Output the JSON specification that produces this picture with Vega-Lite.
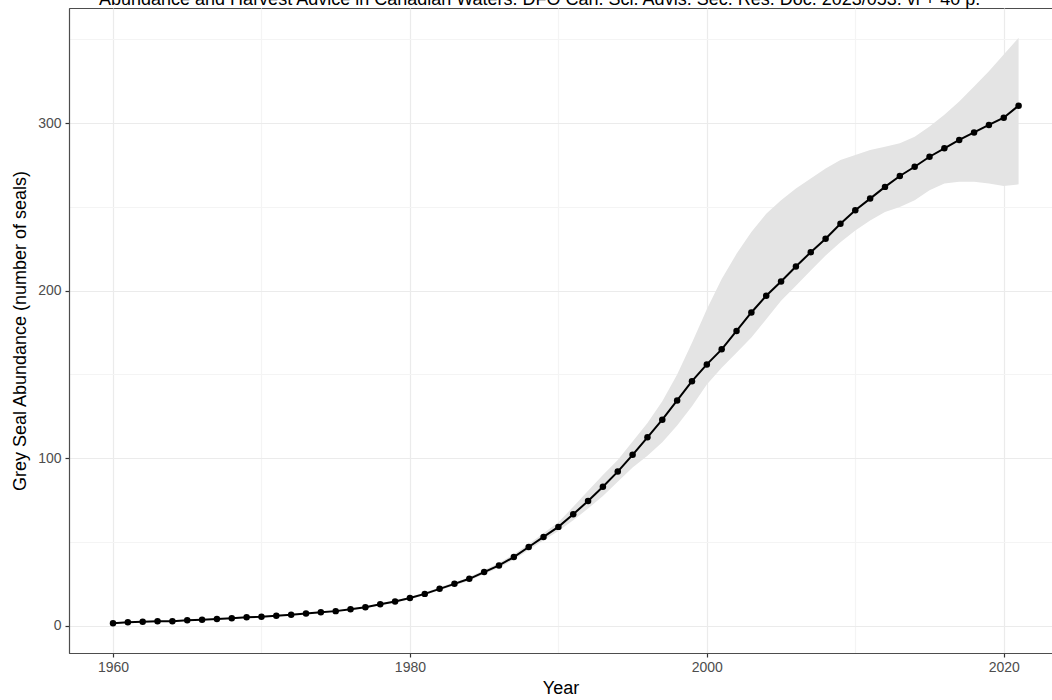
{
  "$schema": "https://vega.github.io/schema/vega-lite/v6.json",
  "autosize": {"type": "none"},
  "width": 983,
  "height": 645,
  "padding": {"left": 69, "top": 8, "right": 0, "bottom": 47},
  "background": "white",
  "title": {
    "text": "Abundance and Harvest Advice in Canadian Waters. DFO Can. Sci. Advis. Sec. Res. Doc. 2023/053. vi + 40 p.",
    "anchor": "start",
    "frame": "group",
    "dx": 30,
    "offset": 0,
    "dy": 15,
    "baseline": "alphabetic",
    "font": "Liberation Sans",
    "fontSize": 18,
    "fontWeight": "normal",
    "color": "#000000"
  },
  "config": {
    "view": {"stroke": "#4d4d4d", "strokeWidth": 1},
    "axis": {
      "labelFont": "Liberation Sans",
      "titleFont": "Liberation Sans",
      "labelFontSize": 14,
      "labelColor": "#4d4d4d",
      "titleFontSize": 18,
      "titleFontWeight": "normal",
      "titleColor": "#000000",
      "domainColor": "#4d4d4d",
      "domainWidth": 1.2,
      "tickWidth": 1.2,
      "tickSize": 4,
      "gridWidth": 1.2
    }
  },
  "data": {
    "values": [
      {"year": 1960, "abundance": 1.5, "lower": 1.2, "upper": 1.8},
      {"year": 1961, "abundance": 2.0, "lower": 1.7, "upper": 2.3},
      {"year": 1962, "abundance": 2.3, "lower": 2.0, "upper": 2.6},
      {"year": 1963, "abundance": 2.7, "lower": 2.4, "upper": 3.0},
      {"year": 1964, "abundance": 2.7, "lower": 2.4, "upper": 3.0},
      {"year": 1965, "abundance": 3.2, "lower": 2.9, "upper": 3.5},
      {"year": 1966, "abundance": 3.6, "lower": 3.3, "upper": 3.9},
      {"year": 1967, "abundance": 4.0, "lower": 3.7, "upper": 4.3},
      {"year": 1968, "abundance": 4.5, "lower": 4.2, "upper": 4.8},
      {"year": 1969, "abundance": 5.0, "lower": 4.7, "upper": 5.3},
      {"year": 1970, "abundance": 5.4, "lower": 5.1, "upper": 5.8},
      {"year": 1971, "abundance": 6.0, "lower": 5.6, "upper": 6.4},
      {"year": 1972, "abundance": 6.6, "lower": 6.2, "upper": 7.0},
      {"year": 1973, "abundance": 7.3, "lower": 6.9, "upper": 7.7},
      {"year": 1974, "abundance": 8.0, "lower": 7.6, "upper": 8.4},
      {"year": 1975, "abundance": 8.7, "lower": 8.3, "upper": 9.2},
      {"year": 1976, "abundance": 9.8, "lower": 9.3, "upper": 10.3},
      {"year": 1977, "abundance": 11.0, "lower": 10.5, "upper": 11.5},
      {"year": 1978, "abundance": 12.8, "lower": 12.2, "upper": 13.4},
      {"year": 1979, "abundance": 14.5, "lower": 13.9, "upper": 15.1},
      {"year": 1980, "abundance": 16.5, "lower": 15.8, "upper": 17.2},
      {"year": 1981, "abundance": 19.0, "lower": 18.2, "upper": 19.8},
      {"year": 1982, "abundance": 22.0, "lower": 21.1, "upper": 22.9},
      {"year": 1983, "abundance": 25.0, "lower": 24.0, "upper": 26.0},
      {"year": 1984, "abundance": 28.0, "lower": 26.9, "upper": 29.1},
      {"year": 1985, "abundance": 32.0, "lower": 30.8, "upper": 33.2},
      {"year": 1986, "abundance": 36.0, "lower": 34.6, "upper": 37.4},
      {"year": 1987, "abundance": 41.0, "lower": 39.4, "upper": 42.6},
      {"year": 1988, "abundance": 47.0, "lower": 45.2, "upper": 48.8},
      {"year": 1989, "abundance": 53.0, "lower": 51.0, "upper": 55.2},
      {"year": 1990, "abundance": 59.0, "lower": 56.5, "upper": 61.8},
      {"year": 1991, "abundance": 66.5, "lower": 63.0, "upper": 71.0},
      {"year": 1992, "abundance": 74.5, "lower": 70.0, "upper": 80.5},
      {"year": 1993, "abundance": 83.0, "lower": 77.5, "upper": 90.0},
      {"year": 1994, "abundance": 92.0, "lower": 86.0, "upper": 99.0},
      {"year": 1995, "abundance": 102.0, "lower": 94.5, "upper": 110.0},
      {"year": 1996, "abundance": 112.5, "lower": 101.5, "upper": 121.0},
      {"year": 1997, "abundance": 123.0, "lower": 109.5, "upper": 134.0},
      {"year": 1998, "abundance": 134.5, "lower": 119.5, "upper": 150.0},
      {"year": 1999, "abundance": 146.0, "lower": 131.0, "upper": 169.0},
      {"year": 2000, "abundance": 156.0, "lower": 144.0, "upper": 189.0},
      {"year": 2001, "abundance": 165.0, "lower": 154.0, "upper": 207.0},
      {"year": 2002, "abundance": 176.0, "lower": 163.0, "upper": 222.0},
      {"year": 2003, "abundance": 187.0, "lower": 172.0, "upper": 235.0},
      {"year": 2004, "abundance": 197.0, "lower": 183.0, "upper": 246.0},
      {"year": 2005, "abundance": 205.5, "lower": 194.0, "upper": 254.0},
      {"year": 2006, "abundance": 214.5, "lower": 203.0, "upper": 261.0},
      {"year": 2007, "abundance": 223.0, "lower": 212.0, "upper": 267.0},
      {"year": 2008, "abundance": 231.0, "lower": 221.0, "upper": 273.0},
      {"year": 2009, "abundance": 240.0, "lower": 229.0, "upper": 278.0},
      {"year": 2010, "abundance": 248.0, "lower": 236.0, "upper": 281.0},
      {"year": 2011, "abundance": 255.0, "lower": 242.0, "upper": 284.0},
      {"year": 2012, "abundance": 262.0, "lower": 247.0, "upper": 286.0},
      {"year": 2013, "abundance": 268.5, "lower": 250.0, "upper": 288.0},
      {"year": 2014, "abundance": 274.0, "lower": 254.0, "upper": 292.0},
      {"year": 2015, "abundance": 280.0, "lower": 260.0, "upper": 298.0},
      {"year": 2016, "abundance": 285.0, "lower": 264.0, "upper": 305.0},
      {"year": 2017, "abundance": 290.0, "lower": 265.0, "upper": 313.0},
      {"year": 2018, "abundance": 294.5, "lower": 265.0, "upper": 322.0},
      {"year": 2019, "abundance": 299.0, "lower": 264.0, "upper": 331.0},
      {"year": 2020, "abundance": 303.3, "lower": 262.5, "upper": 341.0},
      {"year": 2021, "abundance": 310.5, "lower": 263.5, "upper": 351.0}
    ]
  },
  "encoding": {
    "x": {
      "field": "year",
      "type": "quantitative",
      "title": "Year",
      "scale": {"domain": [1957.036, 2023.25], "nice": false, "zero": false},
      "axis": {
        "values": [1960, 1970, 1980, 1990, 2000, 2010, 2020],
        "format": "d",
        "labelExpr": "datum.value % 20 === 0 ? datum.label : ''",
        "tickColor": {"condition": {"test": "datum.value % 20 === 0", "value": "#333333"}, "value": "transparent"},
        "gridColor": {"condition": {"test": "datum.value % 20 === 0", "value": "#ebebeb"}, "value": "#f4f4f4"},
        "labelPadding": 3,
        "titlePadding": 5,
        "labelFlush": false
      }
    }
  },
  "layer": [
    {
      "mark": {"type": "area", "color": "#e4e4e4", "opacity": 1},
      "encoding": {
        "y": {
          "field": "lower",
          "type": "quantitative",
          "title": "Grey Seal Abundance (number of seals)",
          "scale": {"domain": [-16.3, 368.8], "nice": false, "zero": false},
          "axis": {
            "values": [0, 50, 100, 150, 200, 250, 300, 350],
            "labelExpr": "datum.value % 100 === 0 ? datum.label : ''",
            "tickColor": {"condition": {"test": "datum.value % 100 === 0", "value": "#333333"}, "value": "transparent"},
            "gridColor": {"condition": {"test": "datum.value % 100 === 0", "value": "#ebebeb"}, "value": "#f4f4f4"},
            "labelPadding": 4,
            "titlePadding": 8,
            "labelFlush": false
          }
        },
        "y2": {"field": "upper"}
      }
    },
    {
      "mark": {"type": "line", "color": "#000000", "strokeWidth": 2},
      "encoding": {
        "y": {"field": "abundance", "type": "quantitative"}
      }
    },
    {
      "mark": {"type": "point", "filled": true, "color": "#000000", "opacity": 1, "size": 42},
      "encoding": {
        "y": {"field": "abundance", "type": "quantitative"}
      }
    }
  ]
}
